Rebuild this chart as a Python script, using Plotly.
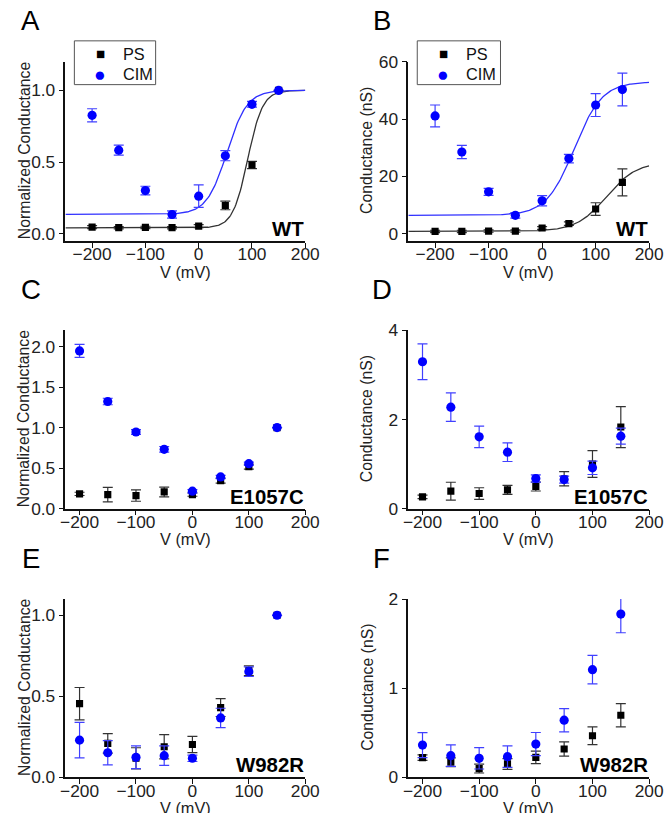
import numpy as np
import plotly.graph_objects as go

# reference image size (all layout positions below are given in these pixels)
REF_W, REF_H = 666, 813
# the page view shows the figure at ~97.8 %, so lay it out slightly larger
FIG_W, FIG_H = 679, 829
S = FIG_W / REF_W  # pixel-size scale for fonts and markers
FONT = "Arial, Liberation Sans, Helvetica, sans-serif"

# ---------------- data ----------------
voltages = [-200, -150, -100, -50, 0, 50, 100, 150]

# Panel A: WT normalized conductance
a_ps = [0.046, 0.042, 0.044, 0.042, 0.053, 0.197, 0.479, 1.0]
a_ps_err = [0.010, 0.008, 0.008, 0.008, 0.010, 0.030, 0.025, 0.0]
a_cim = [0.826, 0.583, 0.301, 0.134, 0.262, 0.544, 0.903, 1.0]
a_cim_err = [0.046, 0.035, 0.030, 0.025, 0.078, 0.035, 0.020, 0.0]

# Panel B: WT conductance (nS)
b_ps = [0.8, 0.8, 0.9, 0.9, 2.0, 3.5, 8.6, 17.9]
b_ps_err = [0.4, 0.4, 0.4, 0.4, 0.5, 0.6, 2.2, 4.7]
b_cim = [41.1, 28.5, 14.6, 6.4, 11.5, 26.2, 44.9, 50.3]
b_cim_err = [3.8, 2.3, 1.2, 1.0, 1.8, 1.5, 4.0, 5.7]

# Panel C: E1057C normalized conductance
c_ps = [0.181, 0.172, 0.160, 0.205, 0.172, 0.345, 0.517, 1.0]
c_ps_err = [0.020, 0.090, 0.070, 0.060, 0.020, 0.030, 0.030, 0.0]
c_cim = [1.947, 1.322, 0.945, 0.731, 0.214, 0.390, 0.554, 1.0]
c_cim_err = [0.080, 0.040, 0.030, 0.035, 0.020, 0.020, 0.020, 0.0]

# Panel D: E1057C conductance (nS)
d_ps = [0.262, 0.390, 0.337, 0.420, 0.494, 0.667, 1.000, 1.830]
d_ps_err = [0.040, 0.200, 0.130, 0.100, 0.100, 0.160, 0.300, 0.460]
d_cim = [3.296, 2.277, 1.610, 1.266, 0.674, 0.650, 0.914, 1.625]
d_cim_err = [0.400, 0.320, 0.240, 0.210, 0.080, 0.080, 0.150, 0.180]

# Panel E: W982R normalized conductance
e_ps = [0.454, 0.209, 0.117, 0.188, 0.202, 0.430, 0.658, 1.0]
e_ps_err = [0.100, 0.060, 0.065, 0.075, 0.050, 0.055, 0.030, 0.0]
e_cim = [0.229, 0.151, 0.123, 0.133, 0.117, 0.366, 0.652, 1.0]
e_cim_err = [0.110, 0.075, 0.070, 0.060, 0.020, 0.060, 0.030, 0.0]

# Panel F: W982R conductance (nS)
f_ps = [0.220, 0.168, 0.097, 0.149, 0.223, 0.317, 0.466, 0.696]
f_ps_err = [0.030, 0.050, 0.050, 0.060, 0.070, 0.080, 0.100, 0.130]
f_cim = [0.361, 0.242, 0.212, 0.231, 0.372, 0.640, 1.207, 1.832]
f_cim_err = [0.140, 0.120, 0.120, 0.120, 0.130, 0.130, 0.160, 0.210]

# Boltzmann fit parameters (bottom, top, V1/2, slope)
fit_a_ps = (0.04, 1.0, 92, 14)
fit_a_cim = (0.135, 1.0, 53, 19)
fit_b_ps = (0.8, 25.0, 120, 28)
fit_b_cim = (6.4, 53.0, 60, 26)

x_ticks = [-200, -100, 0, 100, 200]
series_names = ["PS", "CIM"]

# ---------------- styling ----------------
BLACK = "#000000"
BLUE = "#0000ff"
BLACK_ERR = "#333333"
BLUE_ERR = "#4040ff"
BLACK_FIT = "#333333"
BLUE_FIT = "#3030ff"


def px_x(p):
    return p / REF_W


def px_y(p):
    return 1 - p / REF_H


def sz(v):
    return round(v * S, 2)


panels = [
    dict(key="A", x=(61, 303), y=(52, 232), xr=[-250, 200], yr=[-0.05, 1.2], yt=[0, 0.5, 1.0], fmt=".1f",
         ps=a_ps, pse=a_ps_err, cim=a_cim, cime=a_cim_err, ytitle="Normalized Conductance",
         label="WT", fits=(fit_a_ps, fit_a_cim), legend=(70, 152, 31, 75)),
    dict(key="B", x=(407, 650), y=(52, 232), xr=[-250, 200], yr=[-2.5, 60], yt=[0, 20, 40, 60], fmt="d",
         ps=b_ps, pse=b_ps_err, cim=b_cim, cime=b_cim_err, ytitle="Conductance (nS)",
         label="WT", fits=(fit_b_ps, fit_b_cim), legend=(416, 500, 31, 75)),
    dict(key="C", x=(61, 303), y=(322, 501), xr=[-225, 200], yr=[0, 2.2], yt=[0, 0.5, 1.0, 1.5, 2.0], fmt=".1f",
         ps=c_ps, pse=c_ps_err, cim=c_cim, cime=c_cim_err, ytitle="Normalized Conductance",
         label="E1057C", fits=None, legend=None),
    dict(key="D", x=(407, 650), y=(322, 501), xr=[-225, 200], yr=[0, 4], yt=[0, 2, 4], fmt="d",
         ps=d_ps, pse=d_ps_err, cim=d_cim, cime=d_cim_err, ytitle="Conductance (nS)",
         label="E1057C", fits=None, legend=None),
    dict(key="E", x=(61, 303), y=(592, 771), xr=[-225, 200], yr=[0, 1.1], yt=[0, 0.5, 1.0], fmt=".1f",
         ps=e_ps, pse=e_ps_err, cim=e_cim, cime=e_cim_err, ytitle="Normalized Conductance",
         label="W982R", fits=None, legend=None),
    dict(key="F", x=(407, 650), y=(592, 771), xr=[-225, 200], yr=[0, 2], yt=[0, 1, 2], fmt="d",
         ps=f_ps, pse=f_ps_err, cim=f_cim, cime=f_cim_err, ytitle="Conductance (nS)",
         label="W982R", fits=None, legend=None),
]

fig = go.Figure()
annotations = []
shapes = []
layout_axes = {}


def boltz(v, p):
    b, t, vh, k = p
    return b + (t - b) / (1 + np.exp((vh - v) / k))


for i, p in enumerate(panels):
    n = i + 1
    xa = "x" if n == 1 else f"x{n}"
    ya = "y" if n == 1 else f"y{n}"
    xkey = "xaxis" if n == 1 else f"xaxis{n}"
    ykey = "yaxis" if n == 1 else f"yaxis{n}"

    layout_axes[xkey] = dict(
        domain=[px_x(p["x"][0]), px_x(p["x"][1])], anchor=ya, range=p["xr"],
        tickvals=x_ticks, ticks="outside", ticklen=5, tickwidth=1.3, tickcolor="#111",
        showline=True, linecolor="#111", linewidth=1.5, showgrid=False, zeroline=False,
        tickfont=dict(family=FONT, size=sz(17), color="#222"), fixedrange=True,
        ticklabelstandoff=-8,
    )
    layout_axes[ykey] = dict(
        domain=[px_y(p["y"][1]), px_y(p["y"][0])], anchor=xa, range=p["yr"],
        tickvals=p["yt"], tickformat=p["fmt"], ticks="outside", ticklen=5, tickwidth=1.3, tickcolor="#111",
        showline=True, linecolor="#111", linewidth=1.5, showgrid=False, zeroline=False,
        tickfont=dict(family=FONT, size=sz(17), color="#222"), fixedrange=True,
    )

    # fitted Boltzmann curves (panels A and B)
    if p["fits"] is not None:
        vv = np.arange(p["xr"][0], 200.5, 2.0)
        for fp, col in zip(p["fits"], (BLACK_FIT, BLUE_FIT)):
            fig.add_trace(go.Scatter(x=vv, y=boltz(vv, fp), mode="lines", xaxis=xa, yaxis=ya,
                                     line=dict(color=col, width=1.3), showlegend=False, hoverinfo="skip"))

    # PS (black squares)
    fig.add_trace(go.Scatter(
        x=voltages, y=p["ps"], mode="markers", xaxis=xa, yaxis=ya, name=series_names[0],
        marker=dict(symbol="square", size=sz(7), color=BLACK),
        error_y=dict(type="data", array=p["pse"], visible=True, color=BLACK_ERR, thickness=1.2, width=5),
        showlegend=False,
    ))
    # CIM (blue circles)
    fig.add_trace(go.Scatter(
        x=voltages, y=p["cim"], mode="markers", xaxis=xa, yaxis=ya, name=series_names[1],
        marker=dict(symbol="circle", size=sz(9), color=BLUE),
        error_y=dict(type="data", array=p["cime"], visible=True, color=BLUE_ERR, thickness=1.2, width=5),
        showlegend=False,
    ))

    cx = (p["x"][0] + p["x"][1]) / 2
    cy = (p["y"][0] + p["y"][1]) / 2
    # y-axis title
    annotations.append(dict(
        x=px_x(p["x"][0] - 42), y=px_y(cy - 1), xref="paper", yref="paper", text=p["ytitle"],
        textangle=-90, showarrow=False, xanchor="center", yanchor="middle",
        font=dict(family=FONT, size=sz(15.5), color="#222")))
    # x-axis title
    annotations.append(dict(
        x=px_x(cx), y=px_y(p["y"][1] + 31), xref="paper", yref="paper", text="V (mV)",
        showarrow=False, xanchor="center", yanchor="middle",
        font=dict(family=FONT, size=sz(16), color="#222")))
    # genotype label
    annotations.append(dict(
        x=px_x(p["x"][1] + 1), y=px_y(p["y"][1] - 12), xref="paper", yref="paper",
        text="<b>%s</b>" % p["label"], showarrow=False, xanchor="right", yanchor="middle",
        font=dict(family=FONT, size=sz(20), color="#000")))
    # panel letter
    lx = 26 if p["x"][0] < 300 else 380
    annotations.append(dict(
        x=px_x(lx), y=px_y(p["y"][0] - 41), xref="paper", yref="paper", text=p["key"],
        showarrow=False, xanchor="center", yanchor="middle",
        font=dict(family=FONT, size=sz(27), color="#000")))

    # legend box (panels A and B)
    if p["legend"] is not None:
        l, r, t, b = p["legend"]
        shapes.append(dict(type="rect", xref="paper", yref="paper",
                           x0=px_x(l), x1=px_x(r), y0=px_y(b), y1=px_y(t),
                           line=dict(color="#555", width=1), fillcolor="rgba(0,0,0,0)"))
        row_y = [t + 13, t + 33]
        key_x = l + 26
        text_x = l + 47
        glyphs = [("\u25A0", BLACK, 15), ("\u25CF", BLUE, 19)]
        for (g, col, fs), name, ry in zip(glyphs, series_names, row_y):
            annotations.append(dict(x=px_x(key_x), y=px_y(ry), xref="paper", yref="paper", text=g,
                                    showarrow=False, xanchor="center", yanchor="middle",
                                    font=dict(family=FONT, size=sz(fs), color=col)))
            annotations.append(dict(x=px_x(text_x), y=px_y(ry), xref="paper", yref="paper", text=name,
                                    showarrow=False, xanchor="left", yanchor="middle",
                                    font=dict(family=FONT, size=sz(16), color="#111")))

fig.update_layout(
    width=FIG_W, height=FIG_H, margin=dict(l=0, r=0, t=0, b=0),
    paper_bgcolor="white", plot_bgcolor="white",
    annotations=annotations, shapes=shapes, showlegend=False,
    **layout_axes,
)

fig.write_html(
    "out.html", config={"displayModeBar": False},
    post_script=("document.documentElement.style.overflow='hidden';"
                 "document.body.style.overflow='hidden';"
                 "document.body.style.margin='0px';"),
)
